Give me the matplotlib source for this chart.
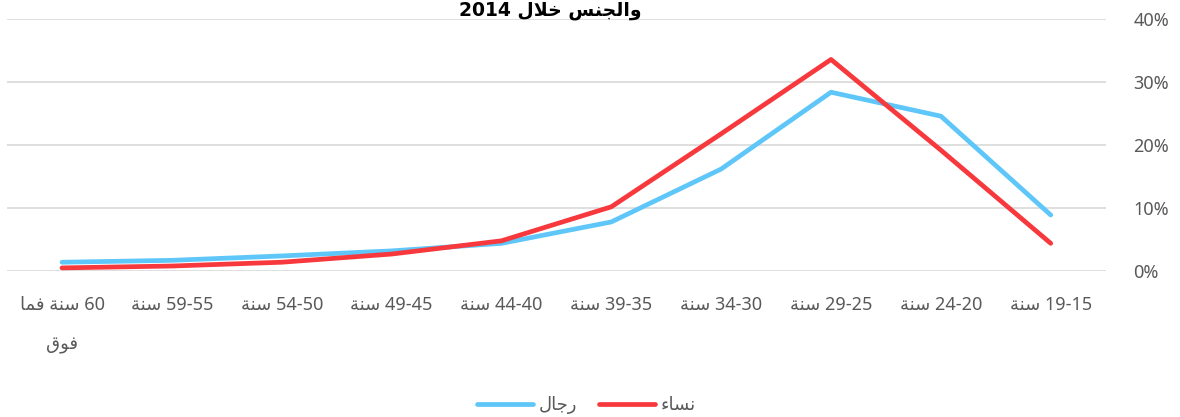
import matplotlib
matplotlib.use("Agg")
import matplotlib.pyplot as plt
from matplotlib.ticker import PercentFormatter

plt.rcParams["font.family"] = ["Noto Sans", "DejaVu Sans"]

# ── Data ──────────────────────────────────────────────────────────────────────

age_ranges = ["19-15", "24-20", "29-25", "34-30", "39-35",
              "44-40", "49-45", "54-50", "59-55", "60"]
men = [8.9, 24.6, 28.4, 16.2, 7.8, 4.4, 3.2, 2.4, 1.7, 1.4]
women = [4.4, 19.2, 33.6, 21.8, 10.2, 4.8, 2.7, 1.4, 0.8, 0.5]
y_ticks = [0, 10, 20, 30, 40]

# ── Arabic shaping (matplotlib draws glyphs one by one, left to right) ────────

# isolated, final, initial, medial
FORMS = {
    "ء": ("\uFE80", None, None, None),
    "ا": ("\uFE8D", "\uFE8E", None, None),
    "ة": ("\uFE93", "\uFE94", None, None),
    "ج": ("\uFE9D", "\uFE9E", "\uFE9F", "\uFEA0"),
    "خ": ("\uFEA5", "\uFEA6", "\uFEA7", "\uFEA8"),
    "ر": ("\uFEAD", "\uFEAE", None, None),
    "س": ("\uFEB1", "\uFEB2", "\uFEB3", "\uFEB4"),
    "ف": ("\uFED1", "\uFED2", "\uFED3", "\uFED4"),
    "ق": ("\uFED5", "\uFED6", "\uFED7", "\uFED8"),
    "ل": ("\uFEDD", "\uFEDE", "\uFEDF", "\uFEE0"),
    "م": ("\uFEE1", "\uFEE2", "\uFEE3", "\uFEE4"),
    "ن": ("\uFEE5", "\uFEE6", "\uFEE7", "\uFEE8"),
    "و": ("\uFEED", "\uFEEE", None, None),
}


def _joins_left(ch):
    return ch in FORMS and FORMS[ch][2] is not None


def _joins_right(ch):
    return ch in FORMS and FORMS[ch][1] is not None


def ar(text):
    """Shape an Arabic string and return it in visual (left-to-right) order."""
    out = []
    i = 0
    while i < len(text):
        ch = text[i]
        if ch not in FORMS:
            out.append(ch)
            i += 1
            continue
        prev = text[i - 1] if i > 0 else ""
        linked_prev = _joins_left(prev) and _joins_right(ch)
        if ch == "ل" and i + 1 < len(text) and text[i + 1] == "ا":
            out.append("\uFEFC" if linked_prev else "\uFEFB")
            i += 2
            continue
        nxt = text[i + 1] if i + 1 < len(text) else ""
        linked_next = _joins_left(ch) and _joins_right(nxt)
        iso, fin, ini, med = FORMS[ch]
        if linked_prev and linked_next:
            out.append(med)
        elif linked_prev:
            out.append(fin)
        elif linked_next:
            out.append(ini)
        else:
            out.append(iso)
        i += 1
    return "".join(reversed(out))


labels = [ar("سنة") + " " + r for r in age_ranges[:-1]]
labels.append(ar("سنة فما") + " " + age_ranges[-1] + "\n" + ar("فوق"))

# ── Plot ──────────────────────────────────────────────────────────────────────

fig = plt.figure(figsize=(11.8, 4.17), dpi=100)
ax = fig.add_axes([0.006, 0.350, 0.931, 0.604])

x = range(len(age_ranges))
ax.plot(x, men, color="#5EC6F8", lw=3.4, solid_capstyle="round",
        label=ar("رجال"), zorder=3)
ax.plot(x, women, color="#F7383D", lw=3.4, solid_capstyle="round",
        label=ar("نساء"), zorder=4)

ax.set_xlim(len(age_ranges) - 0.5, -0.5)
ax.set_ylim(0, 40)
ax.set_yticks(y_ticks)
ax.yaxis.set_major_formatter(PercentFormatter(decimals=0))
ax.yaxis.tick_right()
ax.tick_params(axis="y", length=0, pad=20, labelsize=13, labelcolor="#595959")
for lbl in ax.get_yticklabels():
    lbl.set_horizontalalignment("left")

ax.set_xticks(list(x))
ax.set_xticklabels(labels, linespacing=2.5, va="top")
ax.tick_params(axis="x", length=0, pad=18, labelsize=13, labelcolor="#595959")

ax.grid(axis="y", color="#D9D9D9", lw=1.2)
ax.set_axisbelow(True)
for s in ax.spines.values():
    s.set_visible(False)

fig.text(0.466, 0.998, "2014 " + ar("والجنس خلال"), ha="center", va="top",
         fontsize=13.5, fontweight="bold", color="#000000",
         family=["DejaVu Sans"])

fig.legend(loc="lower center", bbox_to_anchor=(0.497, -0.032), ncol=2,
           frameon=False, fontsize=13, labelcolor="#595959",
           handlelength=3.1, columnspacing=1.2, handletextpad=0.3)

fig.savefig("out.png", dpi=100)
